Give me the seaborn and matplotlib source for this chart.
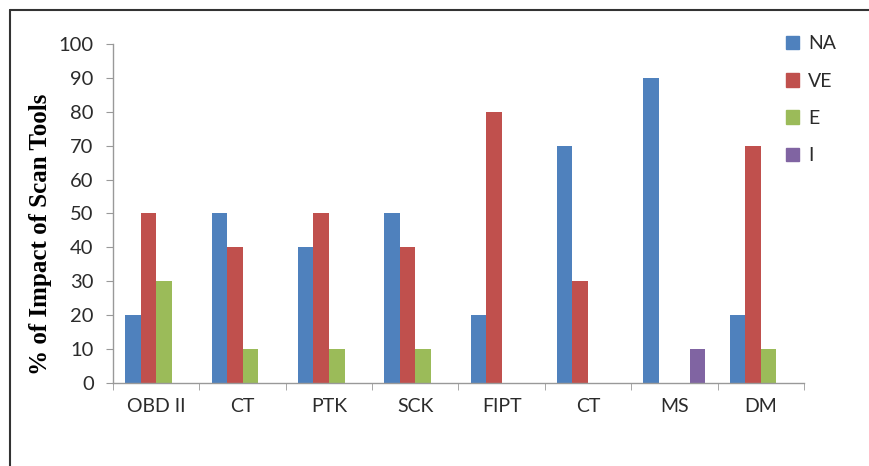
import numpy as np
import pandas as pd
import seaborn as sns
import matplotlib.pyplot as plt
from matplotlib.lines import Line2D

sns.set_style("white")
plt.rcParams['font.family'] = ['Lato', 'DejaVu Sans']

# data
tools = ["OBD II", "CT", "PTK", "SCK", "FIPT", "CT", "MS", "DM"]
series = ["NA", "VE", "E", "I"]
na_vals = [20, 50, 40, 50, 20, 70, 90, 20]
ve_vals = [50, 40, 50, 40, 80, 30, 0, 70]
e_vals = [30, 10, 10, 10, 0, 0, 0, 10]
i_vals = [0, 0, 0, 0, 0, 0, 10, 0]
colors = ["#4F81BD", "#C0504D", "#9BBB59", "#8064A2"]

rows = []
for name, vals in zip(series, [na_vals, ve_vals, e_vals, i_vals]):
    for pos, v in enumerate(vals):
        rows.append({"slot": pos, "series": name, "value": v})
df = pd.DataFrame(rows)

fig = plt.figure(figsize=(8.7, 4.66), dpi=100)
ax = fig.add_axes([0.130, 0.178, 0.794, 0.728])

sns.barplot(data=df, x="slot", y="value", hue="series", hue_order=series,
            palette=colors, order=list(range(len(tools))), width=0.72,
            saturation=1, linewidth=0, errorbar=None, legend=False, ax=ax)

text_col = "#2b2b2b"
ax.set_xlim(-0.5, len(tools) - 0.5)
ax.set_ylim(0, 100)
ax.set_yticks(np.arange(0, 101, 10))
ax.tick_params(axis="y", labelsize=14.5, length=5, color="#999999", left=True,
               pad=9, labelcolor=text_col)
ax.set_xticks(range(len(tools)))
ax.set_xticklabels(tools, fontsize=14, color=text_col)
ax.set_xticks(np.arange(-0.5, len(tools), 1), minor=True)
ax.tick_params(axis="x", which="major", length=0, pad=11)
ax.tick_params(axis="x", which="minor", length=5, color="#999999", bottom=True)
ax.set_xlabel("")
ax.set_ylabel("% of Impact of Scan Tools", fontsize=18, fontweight="bold",
              family="Liberation Serif", color="black")
ax.yaxis.set_label_coords(-0.088, 0.437)

for side in ["top", "right"]:
    ax.spines[side].set_visible(False)
for side in ["left", "bottom"]:
    ax.spines[side].set_color("#999999")
    ax.spines[side].set_linewidth(1)

handles = [plt.Rectangle((0, 0), 1, 1, color=c) for c in colors]
fig.legend(handles, series, loc="upper left", bbox_to_anchor=(0.883, 0.962),
           frameon=False, fontsize=14, handlelength=0.7, handleheight=0.7,
           handletextpad=0.45, labelspacing=1.05, labelcolor=text_col)

# outer frame (top and left edges visible)
fig.add_artist(Line2D([0.0115, 0.0115], [0, 0.979], color="#333333", lw=1.5,
                      transform=fig.transFigure))
fig.add_artist(Line2D([0.0115, 1.0], [0.979, 0.979], color="#333333", lw=1.5,
                      transform=fig.transFigure))

fig.savefig("out.png", dpi=100)
